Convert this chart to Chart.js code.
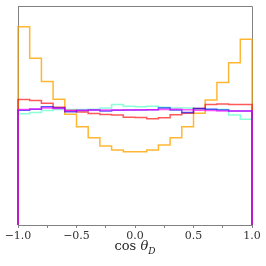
<!DOCTYPE html>
<html>
<head>
<meta charset="utf-8">
<script src="https://cdn.jsdelivr.net/npm/chart.js@4/dist/chart.umd.min.js"></script>
<style>
  html, body { margin: 0; padding: 0; background: #fff; }
  #wrap { position: relative; width: 266px; height: 266px; }
  #xlabel {
    position: absolute; left: 18px; width: 234px; top: 238px;
    text-align: center; font-family: "DejaVu Serif", serif; font-size: 13px; color: #222;
  }
  #xlabel sub { font-size: 9px; }
</style>
</head>
<body>
<div id="wrap">
  <canvas id="grafico" width="266" height="266"></canvas>
  <div id="xlabel">cos <i>θ</i><sub><i>D</i></sub></div>
</div>
<script>
// bordas dos 20 bins em cos(theta_D)
const binEdges = [-1.0, -0.9, -0.8, -0.7, -0.6, -0.5, -0.4, -0.3, -0.2, -0.1, 0.0,
                  0.1, 0.2, 0.3, 0.4, 0.5, 0.6, 0.7, 0.8, 0.9, 1.0];
const majorTicks = [-1.0, -0.5, 0.0, 0.5, 1.0];

// densidades (histogramas normalizados)
const serieLaranja = [0.860, 0.723, 0.622, 0.545, 0.480, 0.426, 0.379, 0.343, 0.325, 0.318,
                      0.318, 0.325, 0.347, 0.379, 0.426, 0.485, 0.542, 0.618, 0.704, 0.806];
const serieVermelha = [0.544, 0.540, 0.528, 0.511, 0.497, 0.490, 0.484, 0.479, 0.477, 0.467,
                       0.466, 0.461, 0.465, 0.478, 0.485, 0.505, 0.523, 0.525, 0.523, 0.523];
const serieAzul = [0.498, 0.502, 0.513, 0.508, 0.491, 0.497, 0.499, 0.494, 0.498, 0.499,
                   0.499, 0.500, 0.507, 0.499, 0.488, 0.505, 0.502, 0.499, 0.495, 0.495];
const serieMagenta = [0.501, 0.503, 0.508, 0.505, 0.497, 0.498, 0.499, 0.499, 0.499, 0.499,
                      0.500, 0.500, 0.501, 0.502, 0.500, 0.498, 0.497, 0.495, 0.495, 0.495];
const serieAqua = [0.483, 0.488, 0.497, 0.501, 0.501, 0.501, 0.502, 0.508, 0.523, 0.515,
                   0.513, 0.515, 0.511, 0.508, 0.507, 0.502, 0.501, 0.501, 0.477, 0.459];

// histograma em degraus (como histtype="step"), descendo a zero nas pontas
function pontosDegrau(valores) {
  const pts = [{ x: binEdges[0], y: 0 }];
  valores.forEach((v, i) => {
    pts.push({ x: binEdges[i], y: v });
    pts.push({ x: binEdges[i + 1], y: v });
  });
  pts.push({ x: binEdges[binEdges.length - 1], y: 0 });
  return pts;
}

// "ordem" maior = desenhado por baixo no Chart.js
function serie(valores, cor, ordem) {
  return {
    data: pontosDegrau(valores),
    borderColor: cor,
    borderWidth: 1.5,
    pointRadius: 0,
    fill: false,
    tension: 0,
    clip: false,
    order: ordem,
  };
}

const molduraPlugin = {
  id: "moldura",
  beforeDatasetsDraw(chart) {
    const { ctx, chartArea: a } = chart;
    ctx.save();
    ctx.strokeStyle = "#808080";
    ctx.lineWidth = 1;
    ctx.beginPath();
    ctx.moveTo(a.left, a.top + 0.5);
    ctx.lineTo(a.right + 0.5, a.top + 0.5);
    ctx.lineTo(a.right + 0.5, a.bottom);
    ctx.stroke();
    ctx.restore();
  },
};

new Chart(document.getElementById("grafico"), {
  type: "line",
  data: {
    datasets: [
      serie(serieAqua, "rgba(127,255,212,0.9)", 5),
      serie(serieLaranja, "rgba(255,165,0,0.8)", 4),
      serie(serieVermelha, "rgba(255,0,0,0.65)", 3),
      serie(serieAzul, "rgba(0,0,255,0.65)", 2),
      serie(serieMagenta, "rgba(255,0,255,0.65)", 1),
    ],
  },
  options: {
    responsive: false,
    animation: false,
    devicePixelRatio: 1,
    layout: { padding: { left: 18, right: 14, top: 6, bottom: 0 } },
    plugins: { legend: { display: false }, tooltip: { enabled: false } },
    scales: {
      x: {
        type: "linear",
        min: -1,
        max: 1,
        afterFit: (eixo) => { eixo.height = 41; },
        border: { color: "#808080" },
        grid: { drawOnChartArea: false, tickLength: 3, color: "#808080" },
        ticks: {
          stepSize: 0.25,
          autoSkip: false,
          maxRotation: 0,
          padding: 2,
          color: "#333",
          font: { family: "DejaVu Serif", size: 11 },
          callback: (v) => {
            if (!majorTicks.some((m) => Math.abs(m - v) < 1e-9)) return "";
            return v < 0 ? "\u2212" + Math.abs(v).toFixed(1) : v.toFixed(1);
          },
        },
      },
      y: {
        min: 0,
        max: 0.95,
        afterFit: (eixo) => { eixo.width = 0; },
        border: { color: "#808080" },
        grid: { drawOnChartArea: false, drawTicks: false },
        ticks: { display: false },
      },
    },
  },
  plugins: [molduraPlugin],
});
</script>
</body>
</html>
